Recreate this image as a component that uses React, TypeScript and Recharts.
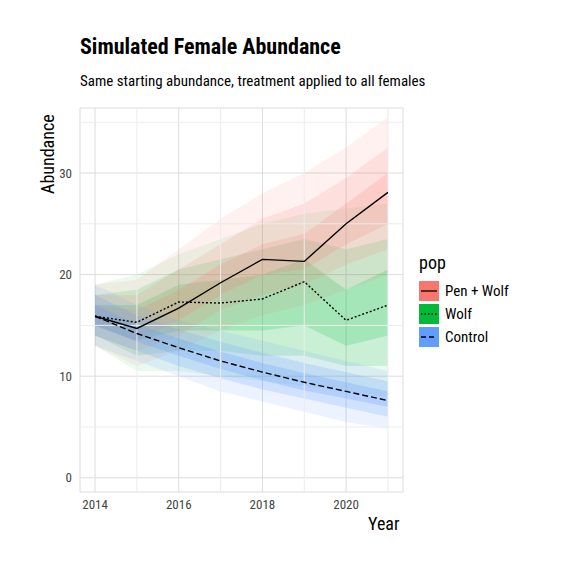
import React from 'react';
import { ComposedChart, Area, Line, XAxis, YAxis, CartesianGrid, ReferenceLine } from 'recharts';

const years = [2014, 2015, 2016, 2017, 2018, 2019, 2020, 2021];
const penWolf = [15.9, 14.7, 16.7, 19.2, 21.5, 21.3, 25.0, 28.1];
const wolf = [15.9, 15.3, 17.3, 17.2, 17.6, 19.3, 15.5, 17.0];
const control = [15.9, 14.2, 12.8, 11.5, 10.4, 9.4, 8.5, 7.6];

// ribbon bounds (outer, middle, inner)
const penLo1 = [13.0, 11.0, 12.5, 14.5, 16.0, 17.0, 18.5, 20.0];
const penHi1 = [19.0, 19.5, 22.5, 25.5, 28.0, 30.0, 32.5, 35.5];
const penLo2 = [14.0, 12.5, 14.0, 16.5, 18.0, 19.0, 21.0, 22.5];
const penHi2 = [18.0, 18.0, 20.5, 23.0, 25.5, 27.0, 29.5, 32.5];
const penLo3 = [15.0, 13.5, 15.5, 18.0, 20.0, 20.5, 23.0, 25.0];
const penHi3 = [17.0, 16.5, 18.5, 21.0, 23.0, 24.0, 27.0, 30.0];

const wolfLo1 = [13.0, 10.5, 10.5, 10.0, 9.5, 9.0, 8.5, 8.0];
const wolfHi1 = [19.0, 20.0, 22.0, 23.5, 25.0, 26.0, 26.5, 27.0];
const wolfLo2 = [14.0, 12.0, 12.5, 12.5, 12.0, 12.0, 11.0, 11.0];
const wolfHi2 = [18.0, 18.5, 20.5, 21.5, 22.5, 23.5, 22.5, 23.5];
const wolfLo3 = [15.0, 13.5, 14.5, 14.5, 14.5, 15.0, 13.0, 14.0];
const wolfHi3 = [17.0, 17.0, 19.0, 19.5, 20.0, 21.5, 18.5, 20.5];

const ctrlLo1 = [13.0, 11.5, 10.0, 8.5, 7.5, 6.5, 5.5, 4.8];
const ctrlHi1 = [19.0, 17.0, 15.5, 14.5, 13.5, 12.5, 11.5, 10.5];
const ctrlLo2 = [14.0, 12.5, 11.0, 9.8, 8.7, 7.8, 6.9, 6.0];
const ctrlHi2 = [18.0, 16.0, 14.6, 13.4, 12.3, 11.3, 10.4, 9.5];
const ctrlLo3 = [15.0, 13.4, 12.0, 10.7, 9.6, 8.6, 7.8, 7.0];
const ctrlHi3 = [17.0, 15.1, 13.7, 12.4, 11.3, 10.3, 9.4, 8.5];

const data = years.map((y, i) => ({
  year: y,
  pen: penWolf[i], wolf: wolf[i], ctrl: control[i],
  p1: [penLo1[i], penHi1[i]], p2: [penLo2[i], penHi2[i]], p3: [penLo3[i], penHi3[i]],
  w1: [wolfLo1[i], wolfHi1[i]], w2: [wolfLo2[i], wolfHi2[i]], w3: [wolfLo3[i], wolfHi3[i]],
  c1: [ctrlLo1[i], ctrlHi1[i]], c2: [ctrlLo2[i], ctrlHi2[i]], c3: [ctrlLo3[i], ctrlHi3[i]],
}));

const RED = '#F8766D', GREEN = '#00BA38', BLUE = '#619CFF';
const font = '"Liberation Sans Narrow", "Roboto Condensed", Roboto, sans-serif';

const band = (k: string, c: string, o: number) => (
  <Area key={k} dataKey={k} type="linear" stroke="none" fill={c} fillOpacity={o} isAnimationActive={false} />
);

const LegendItem = ({ color, dash, label }: { color: string; dash?: string; label: string }) => (
  <div style={{ display: 'flex', alignItems: 'center', height: 23 }}>
    <svg width={20} height={20}>
      <rect x={0} y={0} width={20} height={20} fill={color} />
      <line x1={2} y1={10} x2={18} y2={10} stroke="#000" strokeWidth={1.3} strokeDasharray={dash} />
    </svg>
    <span style={{ marginLeft: 6, fontSize: 15 }}>{label}</span>
  </div>
);

export default function App() {
  return (
    <div style={{ position: 'relative', width: 560, height: 560, fontFamily: font, background: '#fff' }}>
      <div style={{ position: 'absolute', left: 72, top: 26, fontSize: 22, fontWeight: 'bold' }}>Simulated Female Abundance</div>
      <div style={{ position: 'absolute', left: 72, top: 64, fontSize: 15 }}>Same starting abundance, treatment applied to all females</div>
      <div style={{ position: 'absolute', left: 29, top: 186, fontSize: 18, transform: 'rotate(-90deg)', transformOrigin: 'left top', whiteSpace: 'nowrap' }}>Abundance</div>
      <div style={{ position: 'absolute', left: 360, top: 505, fontSize: 18 }}>Year</div>
      <div style={{ position: 'absolute', left: 411, top: 244 }}>
        <div style={{ fontSize: 18, marginBottom: 6 }}>pop</div>
        <LegendItem color={RED} label="Pen + Wolf" />
        <LegendItem color={GREEN} dash="1.5 2" label="Wolf" />
        <LegendItem color={BLUE} dash="5 3" label="Control" />
      </div>
      <ComposedChart width={560} height={560} data={data} margin={{ top: 100, right: 165, bottom: 46, left: 0 }} style={{ position: 'absolute', left: 0, top: 0 }}>
        <CartesianGrid stroke="#dcdcdc" vertical horizontal />
        {[5, 15, 25, 35].map(v => <ReferenceLine key={'h' + v} y={v} stroke="#ececec" />)}
        {[2015, 2017, 2019, 2021].map(v => <ReferenceLine key={'v' + v} x={v} stroke="#ececec" />)}
        <XAxis dataKey="year" type="number" domain={[2013.64, 2021.36]} ticks={[2014, 2016, 2018, 2020]} height={30}
          axisLine={false} tickLine={false} tick={{ fontSize: 13, fill: '#444', fontFamily: font }} />
        <YAxis type="number" domain={[-1.4, 36.4]} ticks={[0, 10, 20, 30]} width={72}
          axisLine={false} tickLine={false} tick={{ fontSize: 13, fill: '#444', fontFamily: font }} />
        {band('w1', GREEN, 0.08)}{band('w2', GREEN, 0.14)}{band('w3', GREEN, 0.18)}
        {band('p1', RED, 0.1)}{band('p2', RED, 0.14)}{band('p3', RED, 0.18)}
        {band('c1', BLUE, 0.12)}{band('c2', BLUE, 0.2)}{band('c3', BLUE, 0.25)}
        <Line dataKey="pen" type="linear" stroke="#000" strokeWidth={1.4} dot={false} isAnimationActive={false} />
        <Line dataKey="wolf" type="linear" stroke="#000" strokeWidth={1.4} strokeDasharray="2 2" dot={false} isAnimationActive={false} />
        <Line dataKey="ctrl" type="linear" stroke="#000" strokeWidth={1.4} strokeDasharray="6 3" dot={false} isAnimationActive={false} />
      </ComposedChart>
    </div>
  );
}
